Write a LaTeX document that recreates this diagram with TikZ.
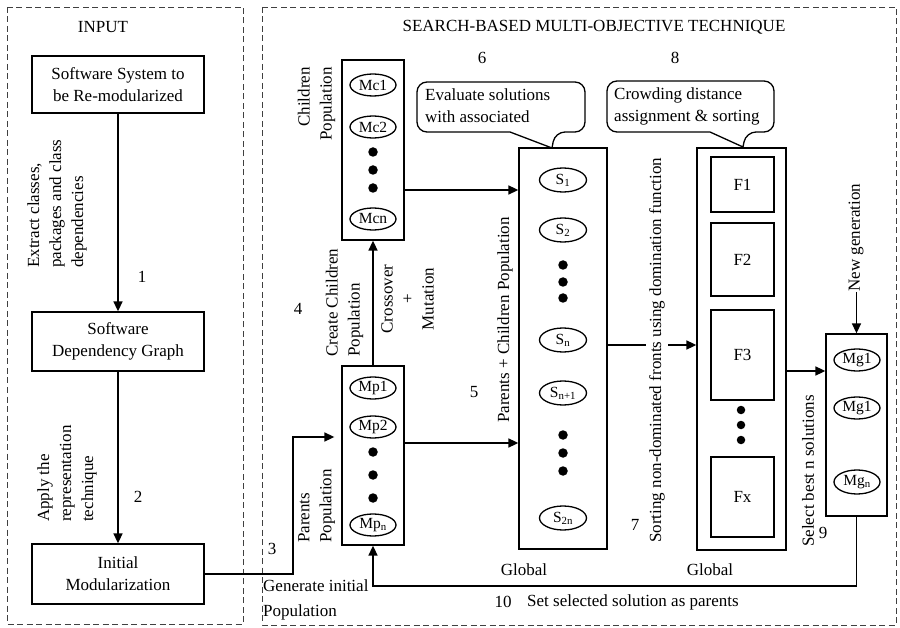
\documentclass[tikz,border=0pt]{standalone}
\usepackage{fontspec}
\setmainfont{Liberation Serif}
\usetikzlibrary{arrows.meta,shapes.geometric}
\begin{document}
\begin{tikzpicture}[x=1pt,y=-1pt,
  every node/.style={font=\fontsize{17}{22}\selectfont},
  panel/.style={draw=black!75, line width=0.9pt, dash pattern=on 6pt off 3.5pt},
  box/.style={draw, line width=1.3pt, inner sep=0pt, align=center, minimum width=172pt},
  col/.style={draw, line width=1.3pt, inner sep=0pt},
  sol/.style={draw, ellipse, line width=1.3pt, minimum width=46pt, minimum height=22pt, inner sep=0pt, font=\fontsize{15.5}{17}\selectfont},
  dot/.style={circle, fill, inner sep=0pt, minimum size=9.5pt},
  fdot/.style={circle, fill, inner sep=0pt, minimum size=8.5pt},
  arr/.style={line width=1.6pt, -{Triangle[length=10pt,width=9pt]}},
  conn/.style={line width=1.6pt},
  lbl/.style={inner sep=0pt, align=left},
  rot/.style={rotate=90, inner sep=0pt},
  callout/.style={line width=1.3pt, line join=round}
]
\useasboundingbox (0,0) rectangle (900,628);
% panels
\draw[panel] (7,7) rectangle (243,624);
\draw[panel] (262,7) rectangle (896,625);
\node[inner sep=0pt] (tin) at (103,27) {INPUT};
\node[inner sep=0pt] (tsb) at (594,27) {SEARCH-BASED MULTI-OBJECTIVE TECHNIQUE};

% input boxes
\node[box, minimum height=57pt] (sys) at (118,84.5) {Software System to\\be Re-modularized};
\node[box, minimum height=59pt] (sdg) at (118,341.5) {Software\\Dependency Graph};
\node[box, minimum height=60pt] (init) at (118,574) {Initial\\Modularization};
\draw[arr] (sys.south) -- (sdg.north);
\draw[arr] (sdg.south) -- (init.north);
\node[rot, align=left, anchor=west] (l1) at (57,268) {Extract classes,\\packages and class\\dependencies};
\node[inner sep=0pt] (n1) at (142,277) {1};
\node[rot, align=left, anchor=west] (l2) at (67,522) {Apply the\\representation\\technique};
\node[inner sep=0pt] (n2) at (138,497) {2};

% population columns
\node[col, minimum width=62pt, minimum height=180pt] (chil) at (373,150) {};
\node[col, minimum width=62pt, minimum height=179pt] (par) at (373,455.5) {};
\node[sol] (mc1) at (373,85) {Mc1};
\node[sol] (mc2) at (373,127) {Mc2};
\node[dot] (cd1) at (373,152) {};
\node[dot] (cd2) at (373,170) {};
\node[dot] (cd3) at (373,188) {};
\node[sol] (mcn) at (373,219) {Mcn};
\node[sol] (mp1) at (373,388) {Mp1};
\node[sol] (mp2) at (373,427) {Mp2};
\node[dot] (pd1) at (373,452) {};
\node[dot] (pd2) at (373,475) {};
\node[dot] (pd3) at (373,498) {};
\node[sol] (mpn) at (373,525) {Mp\textsubscript{n}};
\node[rot, align=right, anchor=east] (lch) at (316.5,67) {Children\\Population};
\node[rot, align=left, anchor=west] (lpa) at (316.5,543) {Parents\\Population};
\node[rot, align=left, anchor=west] (lcc) at (344.5,357) {Create Children\\Population};
\node[rot, align=center, font=\fontsize{17}{20.5}\selectfont] (lcm) at (407.5,299) {Crossover\\+\\Mutation};
\node[inner sep=0pt] (n4) at (298,309) {4};

% initial modularization to parents
\coordinate (c3) at (293,437);
\draw[arr, shorten >=7pt] (init.east) -| (c3) -- (c3 -| par.west);
\node[inner sep=0pt] (n3) at (272,549) {3};
\node[lbl, anchor=west, font=\fontsize{17}{25}\selectfont] (lgi) at (263,599.5) {Generate initial\\Population};
\draw[arr] (par.north) -- (chil.south);

% S column
\node[col, minimum width=88pt, minimum height=401pt] (sb) at (563,348.5) {};
\node[sol, minimum width=47pt, minimum height=24pt] (s1) at (563,180) {S\textsubscript{1}};
\node[sol, minimum width=47pt, minimum height=24pt] (s2) at (563,230) {S\textsubscript{2}};
\node[dot] (sd1) at (563,265) {};
\node[dot] (sd2) at (563,282) {};
\node[dot] (sd3) at (563,298) {};
\node[sol, minimum width=47pt, minimum height=24pt] (sn) at (563,340) {S\textsubscript{n}};
\node[sol, minimum width=47pt, minimum height=24pt] (sn1) at (563,393) {S\textsubscript{n+1}};
\node[dot] (sd4) at (563,435) {};
\node[dot] (sd5) at (563,453) {};
\node[dot] (sd6) at (563,471) {};
\node[sol, minimum width=47pt, minimum height=24pt] (s2n) at (563,518) {S\textsubscript{2n}};
\coordinate (r5) at (0,190);
\coordinate (r6) at (0,443);
\draw[arr] (chil.east |- r5) -- (sb.west |- r5);
\draw[arr] (par.east |- r6) -- (sb.west |- r6);
\node[rot, anchor=west] (lpc) at (505,423) {Parents + Children Population};
\node[inner sep=0pt] (n5) at (474,392) {5};
\node[inner sep=0pt] (g1) at (524,570) {Global};

% callout 1
\draw[callout] (552,148) -- (510,132) [rounded corners=10pt] -- (417,132) -- (417,82) -- (585,82) -- (585,132) -- (555,132) [sharp corners] -- cycle;
\node[lbl, anchor=west] (ev) at (425,106) {Evaluate solutions\\with associated};
\node[inner sep=0pt] (n6) at (482,58) {6};

% F column
\node[col, minimum width=89pt, minimum height=402pt] (fb) at (741.5,349) {};
\node[col, minimum width=63pt, minimum height=55pt] (f1) at (742.5,184.5) {F1};
\node[col, minimum width=63pt, minimum height=73pt] (f2) at (742.5,259.5) {F2};
\node[col, minimum width=63pt, minimum height=90pt] (f3) at (742.5,355) {F3};
\node[fdot] (fd1) at (741,410) {};
\node[fdot] (fd2) at (741,425) {};
\node[fdot] (fd3) at (741,440) {};
\node[col, minimum width=63pt, minimum height=80pt] (fx) at (742.5,497) {Fx};
\node[inner sep=0pt] (g2) at (710,570) {Global};
\coordinate (r7) at (0,345);
\draw[arr] (sb.east |- r7) -- (fb.west |- r7);
\node[rot, anchor=west, fill=white, inner sep=3pt] (lso) at (657,546) {Sorting non-dominated fronts using domination function};
\node[inner sep=0pt] (n7) at (635,525) {7};

% callout 2
\draw[callout] (743,147) -- (710,132) [rounded corners=10pt] -- (607,132) -- (607,81) -- (774,81) -- (774,132) -- (746,132) [sharp corners] -- cycle;
\node[lbl, anchor=west] (cr) at (614,106) {Crowding distance\\assignment \& sorting};
\node[inner sep=0pt] (n8) at (675,58) {8};

% Mg column
\node[col, minimum width=61pt, minimum height=182pt] (mg) at (856.5,425) {};
\node[sol] (mg1) at (857,360) {Mg1};
\node[sol] (mg2) at (857,408) {Mg1};
\node[sol, minimum height=24pt] (mgn) at (857,482) {Mg\textsubscript{n}};
\coordinate (r8) at (0,371);
\draw[arr] (fb.east |- r8) -- (mg.west |- r8);
\node[rot, anchor=west] (ngt) at (856,292) {New generation};
\draw[arr] (ngt.west -| mg.north) -- (mg.north);
\node[rot, anchor=west] (lsel) at (808,547) {Select best n solutions};
\node[inner sep=0pt] (n9) at (823,533) {9};

% feedback
\coordinate (r10) at (0,586);
\draw[arr] (mg.south) -- (mg.south |- r10) -| (par.south);
\node[inner sep=0pt] (n10) at (503,602) {10};
\node[inner sep=0pt, anchor=west] (lset) at (527,602) {Set selected solution as parents};
\end{tikzpicture}
\end{document}
